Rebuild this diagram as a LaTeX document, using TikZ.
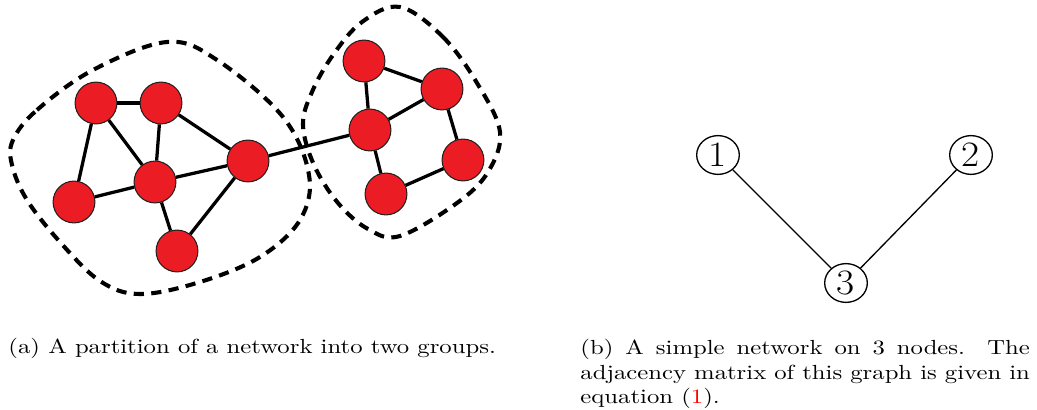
\documentclass[tikz,border=0pt]{standalone}
\usepackage{tikz}
\definecolor{netred}{HTML}{EC1C24}
\definecolor{rimgray}{HTML}{1E1E1E}
\definecolor{linkred}{HTML}{FF0000}

\begin{document}
\begin{tikzpicture}[
  x=0.49pt, y=-0.49pt,
  vertex/.style={circle, draw=rimgray, fill=netred, line width=0.5pt,
                 minimum size=20.5pt, inner sep=0pt},
  link/.style={line width=1.6pt},
  group/.style={line width=2pt, dash pattern=on 5pt off 3.6pt},
  numbered/.style={circle, draw, line width=0.65pt, minimum size=19pt,
                   inner sep=0pt, font=\fontsize{17.5}{19}\selectfont,
                   xscale=1.1, transform shape},
  plain/.style={line width=0.65pt},
  caption/.style={inner sep=0pt, font=\normalsize,
                  xscale=1.21, transform shape},
]
\useasboundingbox (0,0) rectangle (1037,410);

% --- (a) network with two groups ---
\node[vertex] (a1) at (96,103)  {};
\node[vertex] (a2) at (161,103) {};
\node[vertex] (a3) at (155,182) {};
\node[vertex] (a4) at (74,202)  {};
\node[vertex] (a5) at (248,161) {};
\node[vertex] (a6) at (177,251) {};

\node[vertex] (b1) at (364,61)  {};
\node[vertex] (b2) at (442,89)  {};
\node[vertex] (b3) at (370,130) {};
\node[vertex] (b4) at (463,160) {};
\node[vertex] (b5) at (386,194) {};

\draw[link] (a1) -- (a2);
\draw[link] (a1) -- (a4);
\draw[link] (a1) -- (a3);
\draw[link] (a2) -- (a3);
\draw[link] (a2) -- (a5);
\draw[link] (a3) -- (a5);
\draw[link] (a3) -- (a4);
\draw[link] (a3) -- (a6);
\draw[link] (a6) -- (a5);
\draw[link] (a5) -- (b3);
\draw[link] (b1) -- (b3);
\draw[link] (b1) -- (b2);
\draw[link] (b2) -- (b3);
\draw[link] (b2) -- (b4);
\draw[link] (b3) -- (b5);
\draw[link] (b5) -- (b4);

% dashed group outlines
\draw[group] plot[smooth cycle, tension=0.6] coordinates {
  (13,140) (37,110) (93,70) (167,42) (217,60) (283,117) (309,175)
  (300,220) (260,257) (200,282) (140,294) (100,281) (60,242)
  (27,200) (12,165)};
\draw[group] plot[smooth cycle, tension=0.6] coordinates {
  (400,7) (443,37) (477,83) (500,132) (488,172) (457,203) (400,236)
  (368,229) (338,203) (314,165) (303,125) (312,92) (333,55) (362,22)};

% --- (b) simple network on 3 nodes ---
\coordinate (p1) at (718,155);
\coordinate (p2) at (971,155);
\coordinate (p3) at (846,283);
\node[numbered] (n1) at (p1) {1};
\node[numbered] (n2) at (p2) {2};
\node[numbered] (n3) at (p3) {3};
\draw[plain] (n1) -- (n3);
\draw[plain] (n2) -- (n3);

% --- captions ---
\coordinate (ca) at (8,354);
\coordinate (cb) at (580,339);
\node[caption, anchor=base west] (capa) at (ca)
  {(a) A partition of a network into two groups.};
\node[caption, anchor=north west, text width=182pt, align=justify]
  (capb) at (cb)
  {(b) A simple network on 3 nodes. The adjacency matrix of this graph
   is given in equation ({\color{linkred}1}).};
\end{tikzpicture}
\end{document}
